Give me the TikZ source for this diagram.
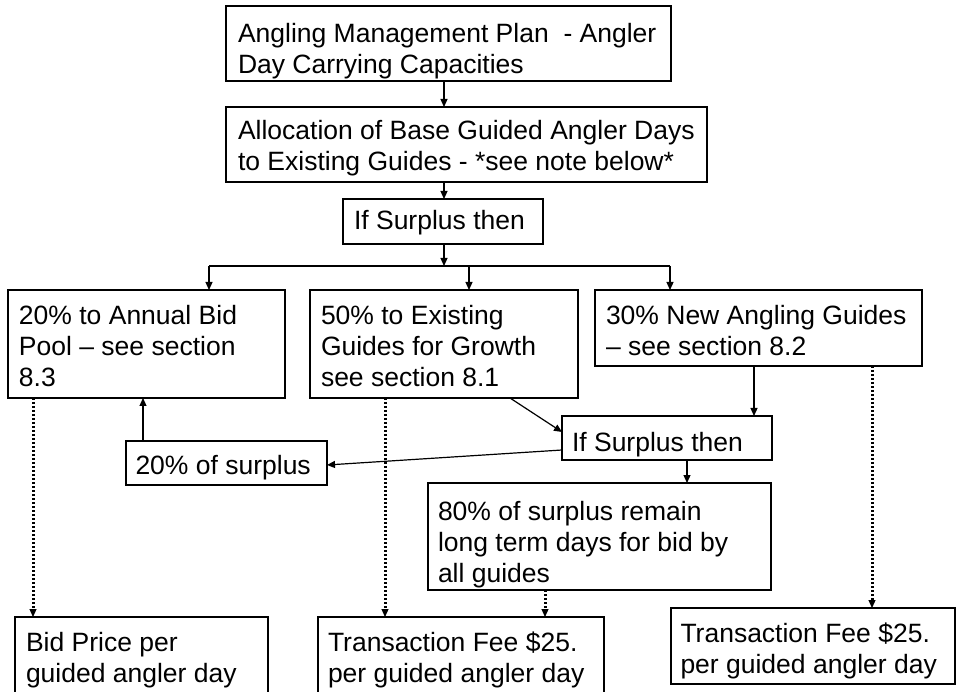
\documentclass[tikz,border=0pt]{standalone}
\usepackage{fontspec}
\setmainfont{Liberation Sans}
\usetikzlibrary{arrows.meta}
\tikzset{
  bx/.style={draw=black, line width=1.2pt, anchor=north west, inner sep=0pt, outer sep=0pt},
  txt/.style={anchor=north west, inner sep=0pt, outer sep=0pt, align=left,
    font=\fontsize{26.5}{31}\selectfont},
  arr/.style={line width=1.2pt, -{Triangle[length=8pt,width=7pt]}},
  ln/.style={line width=1.2pt},
  dotline/.style={line width=3pt, dash pattern=on 2.4pt off 1.6pt},
  dottip/.style={line width=1.2pt, -{Triangle[length=8pt,width=7pt]}},
}
\begin{document}
\begin{tikzpicture}[x=1pt,y=-1pt]
\useasboundingbox (0,0) rectangle (956,692);
\clip (0,0) rectangle (956,692);
\fill[white] (0,0) rectangle (956,692);
% boxes
\node[bx, minimum width=445pt, minimum height=75pt] (b1) at (226,6) {};
\node[txt] (t1) at ([xshift=12pt,yshift=-17pt]b1.north west) {Angling Management Plan~ - Angler\\Day Carrying Capacities};
\node[bx, minimum width=481pt, minimum height=75pt] (b2) at (226,107) {};
\node[txt] (t2) at ([xshift=12pt,yshift=-13pt]b2.north west) {Allocation of Base Guided Angler Days\\to Existing Guides - *see note below*};
\node[bx, minimum width=200pt, minimum height=45pt] (b3) at (343,199) {};
\node[txt] (t3) at ([xshift=11pt,yshift=-11pt]b3.north west) {If Surplus then};
\node[bx, minimum width=277pt, minimum height=108pt] (bA) at (8,290) {};
\node[txt] (tA) at ([xshift=11pt,yshift=-15.5pt]bA.north west) {20\% to Annual Bid\\Pool – see section\\8.3};
\node[bx, minimum width=268pt, minimum height=108pt] (bB) at (310,290) {};
\node[txt] (tB) at ([xshift=11pt,yshift=-15.5pt]bB.north west) {50\% to Existing\\Guides for Growth\\see section 8.1};
\node[bx, minimum width=327pt, minimum height=76pt] (bC) at (595,290) {};
\node[txt] (tC) at ([xshift=11pt,yshift=-15pt]bC.north west) {30\% New Angling Guides\\– see section 8.2};
\node[bx, minimum width=210pt, minimum height=44pt] (bD) at (562,416) {};
\node[txt] (tD) at ([xshift=10pt,yshift=-16pt]bD.north west) {If Surplus then};
\node[bx, minimum width=201pt, minimum height=44pt] (bE) at (126,441) {};
\node[txt] (tE) at ([xshift=9.5pt,yshift=-14pt]bE.north west) {20\% of surplus};
\node[bx, minimum width=343pt, minimum height=107pt] (bF) at (428,483) {};
\node[txt] (tF) at ([xshift=10pt,yshift=-18pt]bF.north west) {80\% of surplus remain\\long term days for bid by\\all guides};
\node[bx, minimum width=253pt, minimum height=90pt] (bG) at (15,617) {};
\node[txt] (tG) at ([xshift=11pt,yshift=-15pt]bG.north west) {Bid Price per\\guided angler day};
\node[bx, minimum width=286pt, minimum height=90pt] (bH) at (318,617) {};
\node[txt] (tH) at ([xshift=10pt,yshift=-15pt]bH.north west) {Transaction Fee \$25.\\per guided angler day};
\node[bx, minimum width=284pt, minimum height=76pt] (bI) at (671,608) {};
\node[txt] (tI) at ([xshift=9.5pt,yshift=-15pt]bI.north west) {Transaction Fee \$25.\\per guided angler day};
% connectors
\draw[arr] ([xshift=218pt]b1.south west) -- ([xshift=218pt]b2.north west);
\draw[arr] ([xshift=218pt]b2.south west) -- ([xshift=101pt]b3.north west);
\coordinate (j) at (444,266);
\coordinate (hl) at (209,266);
\coordinate (hm) at (469,266);
\coordinate (hr) at (670,266);
\draw[arr] ([xshift=101pt]b3.south west) -- (j);
\draw[ln] (hl) -- (hr);
\draw[arr] (hl) -- ([xshift=201pt]bA.north west);
\draw[arr] (hm) -- ([xshift=159pt]bB.north west);
\draw[arr] (hr) -- ([xshift=75pt]bC.north west);
\draw[arr] ([xshift=159pt]bC.south west) -- ([xshift=192pt]bD.north west);
\draw[arr] ([xshift=200pt]bB.south west) -- ([yshift=-16pt]bD.north west);
\draw[arr] ([yshift=-34pt]bD.north west) -- ([yshift=-24pt]bE.north east);
\draw[arr] ([xshift=17pt]bE.north west) -- ([xshift=135pt]bA.south west);
\draw[arr] ([xshift=125pt]bD.south west) -- ([xshift=259pt]bF.north west);
% dotted connectors (dotted shaft, solid tip)
\draw[dotline] ([xshift=25pt]bA.south west) -- ([xshift=18pt,yshift=7pt]bG.north west);
\draw[dottip] ([xshift=18pt,yshift=8pt]bG.north west) -- ([xshift=18pt]bG.north west);
\draw[dotline] ([xshift=75pt]bB.south west) -- ([xshift=67pt,yshift=7pt]bH.north west);
\draw[dottip] ([xshift=67pt,yshift=8pt]bH.north west) -- ([xshift=67pt]bH.north west);
\draw[dotline] ([xshift=117pt]bF.south west) -- ([xshift=227pt,yshift=7pt]bH.north west);
\draw[dottip] ([xshift=227pt,yshift=8pt]bH.north west) -- ([xshift=227pt]bH.north west);
\draw[dotline] ([xshift=277pt]bC.south west) -- ([xshift=201pt,yshift=7pt]bI.north west);
\draw[dottip] ([xshift=201pt,yshift=8pt]bI.north west) -- ([xshift=201pt]bI.north west);
\end{tikzpicture}
\end{document}
